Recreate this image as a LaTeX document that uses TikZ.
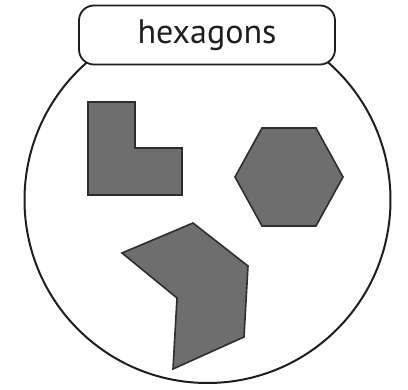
\documentclass[tikz,border=0pt]{standalone}
\usepackage{fontspec}
\setmainfont{PT Sans}
\usepackage{tikz}
\usepackage{xcolor}
\usetikzlibrary{calc,positioning}
\definecolor{jarInk}{RGB}{30,30,30}
\definecolor{jarShape}{RGB}{110,110,110}
\definecolor{jarEdge}{RGB}{45,45,45}
\tikzset{
  jarpiece/.style={fill=jarShape,draw=jarEdge,line width=1.6pt,line join=miter},
  jartag/.style={fill=white,draw=jarInk,line width=1.8pt,rounded corners=15pt,
    minimum width=256pt,minimum height=59pt,inner sep=0pt,
    font=\fontsize{34}{40}\selectfont\color{jarInk}}
}

\begin{document}
\begin{tikzpicture}[x=1pt,y=-1pt]
  \useasboundingbox (0,0) rectangle (408,390);
  % jar body
  \draw[draw=jarInk,line width=2pt] (207.5,200) circle[radius=183];
  \node[jartag] (tag) at (207,35) {hexagons};
  % L shape
  \begin{scope}
    \draw[jarpiece]
      (88,102)--(135,102)--(135,148)--(182,148)--(182,195)--(88,195)--cycle;
  \end{scope}
  % hexagon
  \begin{scope}[shift={(289,177)}]
    \coordinate (h0) at (54,0);
    \coordinate (h1) at (27,-49);
    \coordinate (h2) at (-27,-49);
    \coordinate (h3) at (-54,0);
    \coordinate (h4) at (-27,49);
    \coordinate (h5) at (27,49);
    \draw[jarpiece] (h0)--(h1)--(h2)--(h3)--(h4)--(h5)--cycle;
  \end{scope}
  % concave piece
  \begin{scope}
    \coordinate (q0) at (122,253);
    \coordinate (q1) at (193,223);
    \coordinate (q2) at (248,266);
    \coordinate (q3) at (244,337);
    \coordinate (q4) at (173,369);
    \coordinate (q5) at (177,298);
    \draw[jarpiece] (q0)--(q1)--(q2)--(q3)--(q4)--(q5)--cycle;
  \end{scope}
\end{tikzpicture}
\end{document}
